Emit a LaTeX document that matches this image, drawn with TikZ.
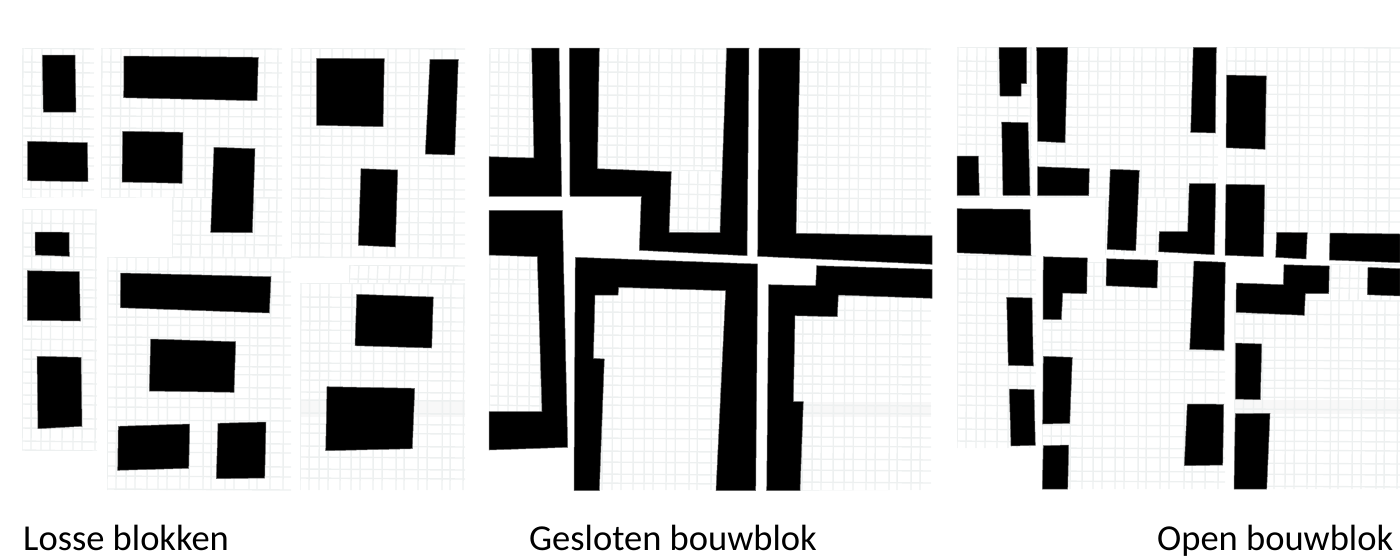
\documentclass[tikz,border=0pt]{standalone}
\usepackage{fontspec}
\setmainfont{Carlito}
\definecolor{gridc}{HTML}{EDF0F0}
\definecolor{bandc}{HTML}{F8F8F8}
\tikzset{
  bk/.style={fill=black,draw=black!60,line width=0.5pt,line join=miter},
  gl/.style={draw=gridc,line width=1.4pt},
  band/.style={fill=bandc,draw=none},
  lab/.style={anchor=base west,font=\fontsize{36.5}{40}\selectfont,text=black,inner sep=0pt}
}
\newcommand{\gridreg}[4]{%
  \begin{scope}
    \clip (#1,#2) rectangle (#3,#4);
    \foreach \d in {0,9,19,28,40,51,60,73,82,96,104,118,127,142,150,163,176,186,199,208,222,231,245,256,265,278,290,299,313,322,336,345,358,370,379,393,402,416,425,438,450}{
      \draw[gl] ({#1+\d+1},#2) -- ({#1+\d},#4);
    }
    \foreach \d in {0,14,24,38,47,60,68,80,88,97,109,117,130,141,150,163,174,186,195,209,219,232,241,255,266,275,288,299,310,322,331,345,356,365,378,390,399,412,423,436,445}{
      \draw[gl] (#1,{#2+\d}) -- (#3,{#2+\d+1});
    }
  \end{scope}}
\begin{document}
\begin{tikzpicture}[x=1pt,y=-1pt]
\useasboundingbox (0,0) rectangle (1400,558);
% --- faint bands
\fill[band] (300,400) rectangle (465,417);
\fill[band] (800,402) rectangle (931,417);
\fill[band] (1234,400) rectangle (1400,414);
% --- panel 1 grids
\gridreg{22}{48}{94}{197}
\gridreg{101}{48}{282}{197}
\gridreg{172}{197}{282}{257}
\gridreg{291}{48}{465}{258}
\gridreg{22}{209}{97}{450}
\gridreg{107}{257}{291}{490}
\gridreg{300}{283}{465}{490}
\gridreg{349}{265}{465}{283}
% --- panel 2 grids
\gridreg{489}{48}{536}{158}
\gridreg{598}{48}{727}{170}
\gridreg{669}{170}{727}{234}
\gridreg{798}{48}{931}{236}
\gridreg{489}{255}{543}{412}
\gridreg{593}{288}{727}{490}
\gridreg{793}{296}{931}{490}
% --- panel 3 grids
\gridreg{957}{47}{1032}{197}
\gridreg{1037}{47}{1218}{197}
\gridreg{1105}{197}{1218}{255}
\gridreg{1226}{47}{1400}{233}
\gridreg{957}{255}{1036}{448}
\gridreg{1042}{262}{1225}{489}
\gridreg{1234}{300}{1400}{489}
\gridreg{1330}{264}{1400}{300}
% --- panel 1 blocks
\fill[bk] (42.3,55) -- (75,55) -- (76,112) -- (43.3,112) -- cycle;
\fill[bk] (27.7,141.3) -- (87.3,142.7) -- (88,181.7) -- (27.7,180.7) -- cycle;
\fill[bk] (124,56) -- (258.3,57.3) -- (257,100.7) -- (123.7,97.7) -- cycle;
\fill[bk] (122.7,131.3) -- (183,132.3) -- (182,183.3) -- (122,182) -- cycle;
\fill[bk] (214,147.3) -- (255,148.7) -- (252.3,232.7) -- (210.7,232.3) -- cycle;
\fill[bk] (316.7,58.3) -- (384.3,58.7) -- (383,126.7) -- (316.7,125.3) -- cycle;
\fill[bk] (430,59.3) -- (458.3,59.3) -- (454.7,155) -- (425.3,154) -- cycle;
\fill[bk] (361,168.7) -- (397.7,170) -- (395.3,247) -- (358.3,245.3) -- cycle;
\fill[bk] (35,232) -- (69,232.3) -- (69.3,256.3) -- (35.3,255) -- cycle;
\fill[bk] (27.3,270.7) -- (79.3,271.7) -- (80.3,321) -- (27.3,320.3) -- cycle;
\fill[bk] (37,356.3) -- (81,357.3) -- (82,426.3) -- (38,428.7) -- cycle;
\fill[bk] (120.7,273) -- (271,276.7) -- (269.3,313) -- (120.3,307.7) -- cycle;
\fill[bk] (150.7,339) -- (235.7,341.7) -- (234,392.3) -- (149.3,391) -- cycle;
\fill[bk] (118.3,426.3) -- (189.7,424) -- (188.7,468.3) -- (117.7,470.3) -- cycle;
\fill[bk] (218,423.3) -- (266,422) -- (264.7,478) -- (216.3,478.7) -- cycle;
\fill[bk] (356.7,294.3) -- (433.3,297) -- (431.7,348) -- (355,345.7) -- cycle;
\fill[bk] (327,386.7) -- (414.7,388.3) -- (412.3,448.7) -- (325.7,450.7) -- cycle;
% --- panel 2 blocks
\fill[bk] (531.7,48) -- (559,48) -- (561.7,196.3) -- (489,196.3) -- (489,156.7) -- (534,158) -- cycle;
\fill[bk] (569.3,48) -- (599.3,48) -- (597.3,168.7) -- (671.3,171.7) -- (669,232.3) -- (720,232.7) -- (726.7,48) -- (749,48) -- (747,255.7) -- (639.3,250.3) -- (641.3,196.3) -- (570,196.3) -- cycle;
\fill[bk] (759,48) -- (800,48) -- (796,233.3) -- (932,235.7) -- (932,264.3) -- (757.7,256.3) -- cycle;
\fill[bk] (489,210.3) -- (562.3,210.3) -- (567.7,447.3) -- (489,450) -- (489,411.7) -- (542,411.7) -- (537.3,256.7) -- (489,255) -- cycle;
\fill[bk] (575.3,257.3) -- (757.7,264) -- (755.7,490.7) -- (716,490.7) -- (725.7,290.7) -- (618.7,287.3) -- (618,295) -- (595,295) -- (593.3,358.3) -- (604.3,359) -- (599.3,490.7) -- (574,490.7) -- cycle;
\fill[bk] (816.7,265.7) -- (932,269.3) -- (932,298.3) -- (838.3,295) -- (837.3,316.7) -- (795,315.7) -- (793.3,401.7) -- (803.3,401.7) -- (800,490.7) -- (766.7,490.7) -- (768.7,284.7) -- (815.7,285.7) -- cycle;
% --- panel 3 blocks
\fill[bk] (999,47.3) -- (1026.7,47.3) -- (1026.7,83.7) -- (1021,83.7) -- (1021,96) -- (1000,96) -- cycle;
\fill[bk] (1036.7,47.3) -- (1067.7,47.3) -- (1065,142.7) -- (1037.7,141.3) -- cycle;
\fill[bk] (1193.3,47.3) -- (1216.3,47.3) -- (1215.3,133) -- (1190.7,132.3) -- cycle;
\fill[bk] (1226.7,75) -- (1266.3,76) -- (1265,149.3) -- (1226,147.7) -- cycle;
\fill[bk] (1001.7,122) -- (1028,122.7) -- (1030,195.3) -- (1003,195.3) -- cycle;
\fill[bk] (957,156) -- (978.3,156) -- (979.3,195.3) -- (957,195.3) -- cycle;
\fill[bk] (1037.7,166.7) -- (1089.3,168.7) -- (1088.7,195.7) -- (1037.7,195.7) -- cycle;
\fill[bk] (1110.3,169.3) -- (1139.3,170.3) -- (1135.7,250.7) -- (1107,249.3) -- cycle;
\fill[bk] (1189.3,183.7) -- (1215.7,183.7) -- (1214.3,254.7) -- (1158.7,251.7) -- (1159.3,231.7) -- (1187.7,231.7) -- cycle;
\fill[bk] (1226,184.3) -- (1264.7,185) -- (1263.3,256.7) -- (1225,255.3) -- cycle;
\fill[bk] (1276.7,232.3) -- (1307.3,232.7) -- (1306,259) -- (1275.7,257.3) -- cycle;
\fill[bk] (1330,233) -- (1400,234) -- (1400,262.7) -- (1329.3,260) -- cycle;
\fill[bk] (957,208.7) -- (1030,209.3) -- (1031,255.7) -- (957,252.7) -- cycle;
\fill[bk] (1043.3,256.7) -- (1087.3,258) -- (1086.7,293.7) -- (1062.7,293) -- (1061.3,319.7) -- (1043,319.3) -- cycle;
\fill[bk] (1106.7,258.7) -- (1158,260.3) -- (1157,288) -- (1106,285.7) -- cycle;
\fill[bk] (1194,261) -- (1225.3,262.3) -- (1224,350.3) -- (1189.7,349.3) -- cycle;
\fill[bk] (1284,264.7) -- (1329.3,266) -- (1328.7,293.7) -- (1305.3,293.7) -- (1304.3,315.3) -- (1236,312.3) -- (1236.3,283) -- (1283.3,284.7) -- cycle;
\fill[bk] (1368,267.3) -- (1400,268.7) -- (1400,296) -- (1367.3,294.7) -- cycle;
\fill[bk] (1006.7,297.3) -- (1032,298) -- (1033.3,366) -- (1008.3,365.3) -- cycle;
\fill[bk] (1043.3,356.3) -- (1072.3,357.3) -- (1069.7,423.3) -- (1042.7,424) -- cycle;
\fill[bk] (1009.3,389) -- (1034,389.7) -- (1035.3,445.3) -- (1011,446) -- cycle;
\fill[bk] (1043.3,445.7) -- (1068.7,445) -- (1067.7,489) -- (1042.3,489) -- cycle;
\fill[bk] (1235.7,343) -- (1261.7,344) -- (1260.3,399.7) -- (1235.3,399) -- cycle;
\fill[bk] (1187.3,404) -- (1223.7,404.3) -- (1222.7,465) -- (1184.3,465.7) -- cycle;
\fill[bk] (1235.3,413.7) -- (1270,413.3) -- (1266.7,489) -- (1234,489) -- cycle;
% --- labels
\node[lab] (l1) at (23,550.5) {Losse blokken};
\node[lab] (l2) at (529,550.5) {Gesloten bouwblok};
\node[lab] (l3) at (1157,550.5) {Open bouwblok};
\end{tikzpicture}
\end{document}
